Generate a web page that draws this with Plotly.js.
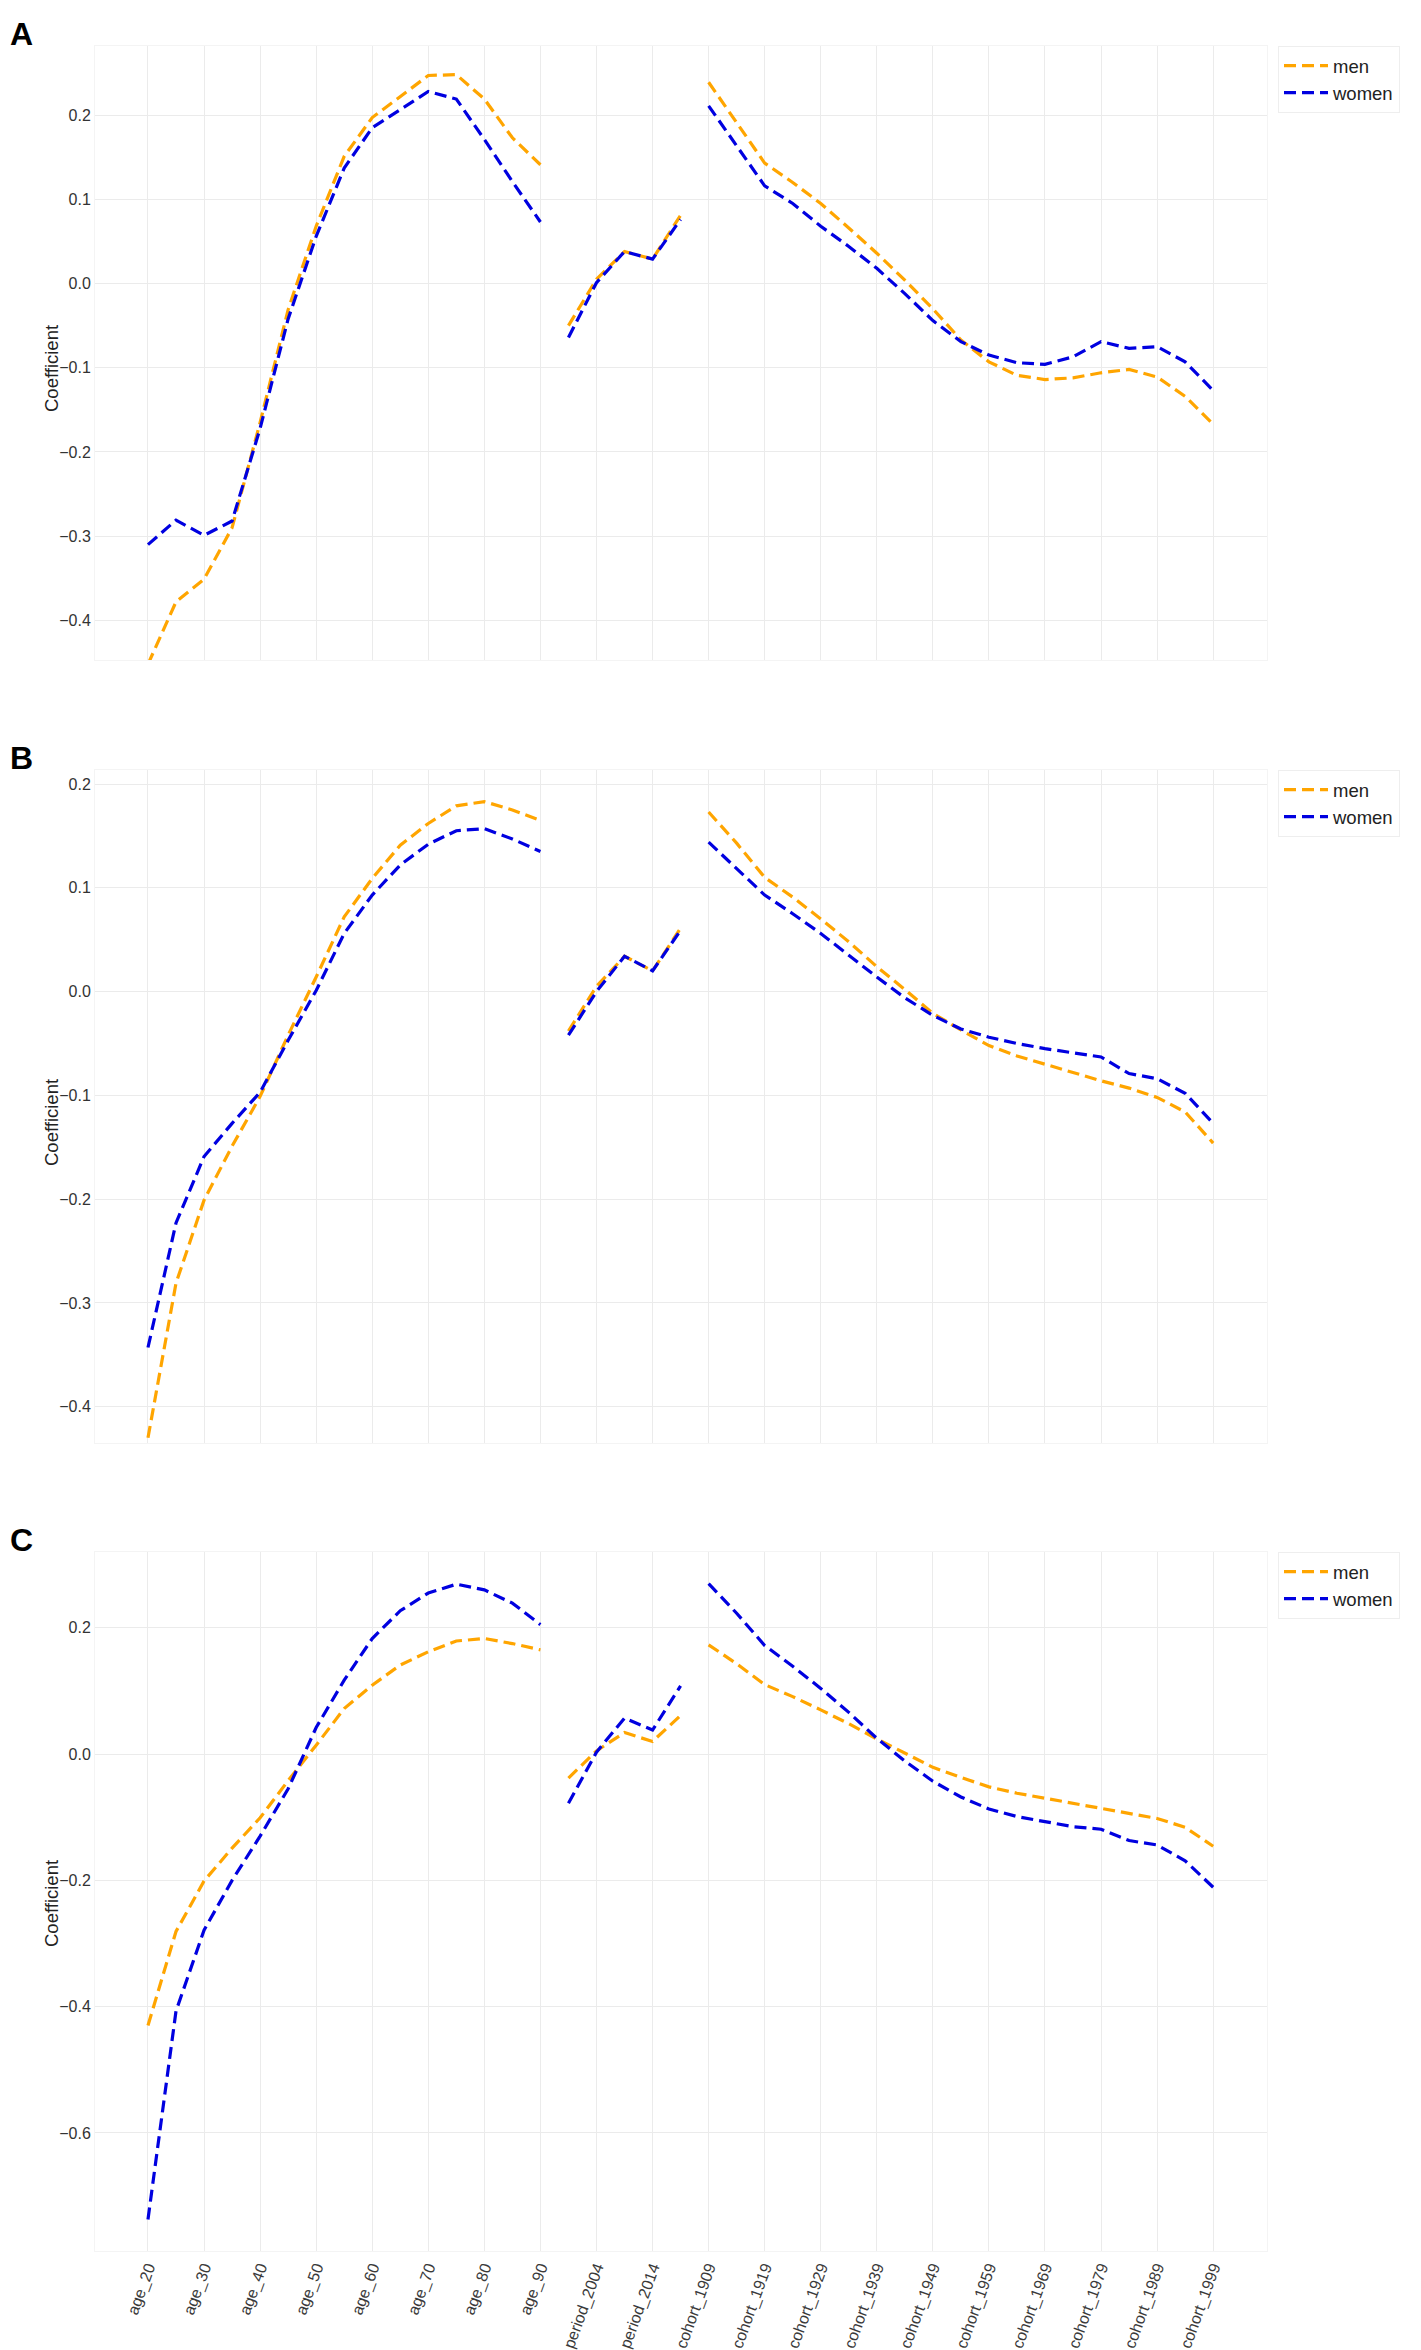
<!DOCTYPE html>
<html>
<head>
<meta charset="utf-8">
<script src="https://cdn.plot.ly/plotly-3.0.1.min.js"></script>
<style>
  html, body { margin: 0; padding: 0; background: #fff; }
  #chart { width: 1421px; height: 2350px; }
</style>
</head>
<body>
<div id="chart"></div>
<script>
/* ============================================================
   DATA ‚Äî age / period / cohort coefficients
   ============================================================ */
const ageCats = ["age_20", "age_25", "age_30", "age_35", "age_40", "age_45", "age_50",
  "age_55", "age_60", "age_65", "age_70", "age_75", "age_80", "age_85", "age_90"];
const periodCats = ["period_1999", "period_2004", "period_2009", "period_2014", "period_2019"];
const cohortCats = ["cohort_1909", "cohort_1914", "cohort_1919", "cohort_1924", "cohort_1929",
  "cohort_1934", "cohort_1939", "cohort_1944", "cohort_1949", "cohort_1954", "cohort_1959",
  "cohort_1964", "cohort_1969", "cohort_1974", "cohort_1979", "cohort_1984", "cohort_1989",
  "cohort_1994", "cohort_1999"];

// panel A
const menA = [
  -0.452, -0.378, -0.351, -0.29, -0.165, -0.031, 0.068, 0.151, 0.197, 0.222, 0.247, 0.248, 0.219, 0.173, 0.141,
  -0.05, 0.005, 0.038, 0.029, 0.081,
  0.239, 0.191, 0.143, 0.12, 0.095, 0.066, 0.036, 0.004, -0.03, -0.067, -0.093, -0.109, -0.114, -0.112,
  -0.106, -0.102, -0.111, -0.134, -0.167,
];
const womenA = [
  -0.31, -0.281, -0.299, -0.282, -0.172, -0.042, 0.056, 0.137, 0.185, 0.207, 0.228, 0.219, 0.171, 0.121, 0.073,
  -0.064, 0.001, 0.038, 0.029, 0.076,
  0.211, 0.163, 0.116, 0.095, 0.068, 0.044, 0.018, -0.012, -0.044, -0.069, -0.085, -0.094, -0.096, -0.087,
  -0.069, -0.077, -0.075, -0.093, -0.127,
];

// panel B
const menB = [
  -0.43, -0.281, -0.201, -0.149, -0.101, -0.042, 0.014, 0.072, 0.109, 0.141, 0.162, 0.179, 0.183, 0.175, 0.165,
  -0.038, 0.005, 0.034, 0.02, 0.061,
  0.173, 0.143, 0.11, 0.091, 0.07, 0.048, 0.024, 0.002, -0.021, -0.037, -0.052, -0.062, -0.07, -0.078,
  -0.086, -0.093, -0.102, -0.116, -0.146,
];
const womenB = [
  -0.343, -0.223, -0.159, -0.127, -0.097, -0.047, 0.001, 0.056, 0.093, 0.122, 0.142, 0.155, 0.157, 0.147, 0.135,
  -0.042, 0.0, 0.034, 0.02, 0.059,
  0.144, 0.119, 0.093, 0.075, 0.056, 0.035, 0.014, -0.006, -0.023, -0.036, -0.044, -0.05, -0.055, -0.059,
  -0.063, -0.079, -0.084, -0.098, -0.127,
];

// panel C (men's curve is the same model as in B)
const menC = menB;
const womenC = [
  -0.737, -0.407, -0.279, -0.2, -0.13, -0.055, 0.042, 0.117, 0.183, 0.227, 0.255, 0.269, 0.26, 0.239, 0.205,
  -0.078, 0.003, 0.057, 0.038, 0.108,
  0.27, 0.223, 0.172, 0.139, 0.104, 0.066, 0.025, -0.011, -0.043, -0.068, -0.087, -0.099, -0.107, -0.115,
  -0.119, -0.137, -0.144, -0.169, -0.211,
];

/* ============================================================
   SETUP
   ============================================================ */
const allCats = [...ageCats, ...periodCats, ...cohortCats];
const tickCats = allCats.filter((c, i) => i % 2 === 0);
const groups = [ageCats, periodCats, cohortCats];

const COL_MEN = "#FFA500";
const COL_WOMEN = "#0000E0";
const FONT = "Liberation Sans, Arial, sans-serif";

// page geometry (pixels) -> paper coords
const W = 1421, H = 2350;
const M = { l: 95, r: 154, t: 46, b: 99 };
const plotW = W - M.l - M.r;
const plotH = H - M.t - M.b;
const px2x = (px) => (px - M.l) / plotW;
const px2y = (py) => (H - M.b - py) / plotH;

const panels = [
  { id: "A", men: menA, women: womenA, top: 46, bottom: 660, range: [-0.447, 0.282], dtick: 0.1, titleY: 368 },
  { id: "B", men: menB, women: womenB, top: 770, bottom: 1443, range: [-0.435, 0.2135], dtick: 0.1, titleY: 1122 },
  { id: "C", men: menC, women: womenC, top: 1552, bottom: 2251, range: [-0.787, 0.32], dtick: 0.2, titleY: 1903 },
];

/* ============================================================
   TRACES
   ============================================================ */
const traces = [];
panels.forEach((p, k) => {
  const sfx = k === 0 ? "" : String(k + 1);
  [["men", p.men, COL_MEN], ["women", p.women, COL_WOMEN]].forEach(([name, vals, col]) => {
    let start = 0;
    groups.forEach((cats, g) => {
      traces.push({
        type: "scatter",
        mode: "lines",
        name: name,
        x: cats,
        y: vals.slice(start, start + cats.length),
        xaxis: "x" + sfx,
        yaxis: "y" + sfx,
        legend: "legend" + sfx,
        legendgroup: name + sfx,
        showlegend: g === 0,
        line: { color: col, width: 3.2, dash: "12px,6px" },
        hoverinfo: "x+y",
      });
      start += cats.length;
    });
  });
});

/* ============================================================
   LAYOUT
   ============================================================ */
const layout = {
  width: W,
  height: H,
  margin: M,
  paper_bgcolor: "#fff",
  plot_bgcolor: "#fff",
  font: { family: FONT, color: "#222" },
  annotations: [],
};

panels.forEach((p, k) => {
  const sfx = k === 0 ? "" : String(k + 1);
  const yDom = [px2y(p.bottom), px2y(p.top)];
  layout["xaxis" + sfx] = {
    type: "category",
    categoryorder: "array",
    categoryarray: allCats,
    range: [-1.89, 39.92],
    anchor: "y" + sfx,
    domain: [0, 1],
    tickmode: "array",
    tickvals: tickCats,
    ticktext: tickCats,
    showticklabels: k === 2,
    tickangle: -70,
    tickfont: { family: FONT, size: 16, color: "#3a3a3a" },
    ticks: "",
    showgrid: true,
    gridcolor: "#ebebeb",
    gridwidth: 1,
    zeroline: false,
    showline: true,
    linecolor: "#f4f4f4",
    mirror: true,
  };
  layout["yaxis" + sfx] = {
    anchor: "x" + sfx,
    domain: yDom,
    range: p.range,
    dtick: p.dtick,
    tick0: 0,
    tickformat: ".1f",
    tickfont: { family: FONT, size: 16, color: "#333" },
    ticks: "",
    showgrid: true,
    gridcolor: "#ebebeb",
    gridwidth: 1,
    zeroline: false,
    showline: true,
    linecolor: "#f4f4f4",
    mirror: true,
  };
  layout["legend" + sfx] = {
    x: px2x(1278),
    y: yDom[1],
    xanchor: "left",
    yanchor: "top",
    bgcolor: "#fff",
    bordercolor: "#eeeeee",
    borderwidth: 1,
    itemwidth: 44,
    font: { family: FONT, size: 18.5, color: "#222" },
    tracegroupgap: 0,
  };

  // panel letter
  layout.annotations.push({
    xref: "paper", yref: "paper",
    x: px2x(8), y: px2y(p.top - 12),
    xanchor: "left", yanchor: "middle",
    text: "<b>" + p.id + "</b>",
    showarrow: false,
    font: { family: FONT, size: 32, color: "#000" },
  });
  // y title
  layout.annotations.push({
    xref: "paper", yref: "paper",
    x: px2x(51), y: px2y(p.titleY),
    xanchor: "center", yanchor: "middle",
    text: "Coefficient",
    textangle: -90,
    showarrow: false,
    font: { family: FONT, size: 18.5, color: "#222" },
  });
});

Plotly.newPlot("chart", traces, layout, { displayModeBar: false, staticPlot: true });
</script>
</body>
</html>
